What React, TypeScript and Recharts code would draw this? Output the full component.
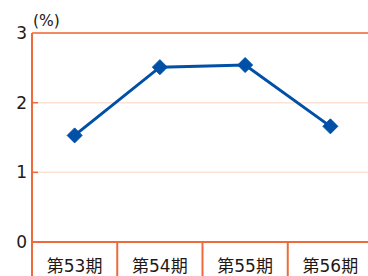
import React from 'react';
import { LineChart, Line, XAxis, YAxis, CartesianGrid, ReferenceLine, Label } from 'recharts';

const categories = ['第53期', '第54期', '第55期', '第56期'];
const values = [1.53, 2.51, 2.54, 1.66];
const yTicks = [0, 1, 2, 3];
const unitLabel = '(%)';

const data = categories.map((c, i) => ({ name: c, value: values[i] }));

const ORANGE = '#EE6A3A';
const GRID = '#FCE2D4';
const BLUE = '#0050A8';
const TEXT = '#231815';
const FONT = '"DejaVu Sans", "Noto Sans CJK JP", sans-serif';

const XTick = (props: any) => {
  const { x, y, payload } = props;
  const off = payload && typeof payload.offset === 'number' ? payload.offset : 0;
  return (
    <g>
      <line x1={x - off} y1={y} x2={x - off} y2={y + 40} stroke={ORANGE} strokeWidth={2} />
      <text x={x} y={y + 30} textAnchor="middle" fill={TEXT} fontSize={17} fontFamily={FONT}>
        {payload.value}
      </text>
    </g>
  );
};

const YTick = (props: any) => {
  const { x, y, payload } = props;
  return (
    <g>
      <text x={x} y={y} dy={6} textAnchor="end" fill={TEXT} fontSize={17} fontFamily={FONT}>
        {payload.value}
      </text>
      {payload.value !== 0 && payload.value !== 3 ? (
        <line x1={x + 5} y1={y} x2={x + 11} y2={y} stroke={ORANGE} strokeWidth={1.5} />
      ) : null}
    </g>
  );
};

const UnitLabel = (props: any) => {
  const vb = props.viewBox || { x: 0, y: 33, width: 32 };
  return (
    <text x={vb.x + vb.width + 1} y={vb.y - 7} textAnchor="start" fill={TEXT} fontSize={15.5} fontFamily={FONT}>
      {unitLabel}
    </text>
  );
};

const Diamond = (props: any) => {
  const { cx, cy } = props;
  if (cx == null || cy == null) return null;
  const r = 7.5;
  return (
    <path
      d={`M${cx},${cy - r} L${cx + r},${cy} L${cx},${cy + r} L${cx - r},${cy} Z`}
      fill={BLUE}
      stroke={BLUE}
      strokeWidth={1}
      strokeLinejoin="round"
    />
  );
};

export default function App() {
  return (
    <div style={{ position: 'absolute', left: 0, top: 0, width: 368, height: 276, overflow: 'hidden', background: '#fff' }}>
      <LineChart width={373} height={276} data={data} margin={{ top: 33, right: 0, bottom: 0, left: 0 }}>
        <CartesianGrid horizontal vertical={false} stroke={GRID} strokeWidth={1.5} />
        <XAxis
          dataKey="name"
          scale="band"
          height={34}
          axisLine={{ stroke: ORANGE, strokeWidth: 2 }}
          tickLine={false}
          tickSize={0}
          tickMargin={0}
          tick={<XTick />}
          interval={0}
        />
        <YAxis
          domain={[0, 3]}
          ticks={yTicks}
          width={32}
          axisLine={{ stroke: ORANGE, strokeWidth: 2 }}
          tickLine={false}
          tickSize={3}
          tickMargin={2}
          tick={<YTick />}
        >
          <Label content={<UnitLabel />} />
        </YAxis>
        <ReferenceLine y={3} stroke={ORANGE} strokeWidth={1.5} />
        <Line
          dataKey="value"
          stroke={BLUE}
          strokeWidth={3}
          dot={<Diamond />}
          activeDot={false}
          isAnimationActive={false}
        />
      </LineChart>
    </div>
  );
}
